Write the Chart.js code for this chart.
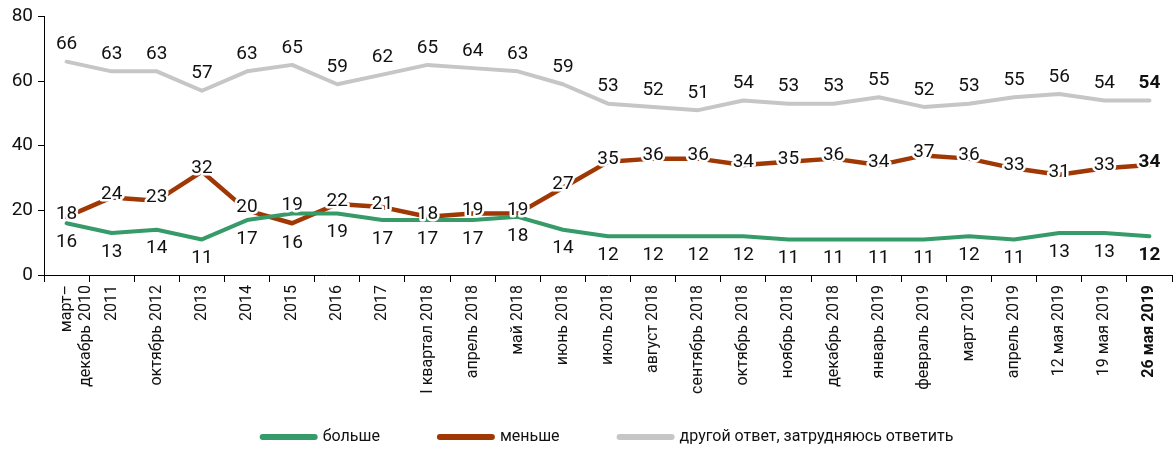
<!DOCTYPE html>
<html>
<head>
<meta charset="utf-8">
<title>больше / меньше</title>
<script src="https://cdn.jsdelivr.net/npm/chart.js@4.4.0/dist/chart.umd.min.js"></script>
<style>
  html, body { margin: 0; padding: 0; background: #fff; }
  #wrap { width: 1174px; height: 451px; }
</style>
</head>
<body>
<div id="wrap"><canvas id="myChart"></canvas></div>
<script>
var labels = [['март–', 'декабрь 2010'], '2011', 'октябрь 2012', '2013', '2014', '2015', '2016', '2017',
  'I квартал 2018', 'апрель 2018', 'май 2018', 'июнь 2018', 'июль 2018', 'август 2018', 'сентябрь 2018',
  'октябрь 2018', 'ноябрь 2018', 'декабрь 2018', 'январь 2019', 'февраль 2019', 'март 2019', 'апрель 2019',
  '12 мая 2019', '19 мая 2019', '26 мая 2019'];
var bolshe = [16, 13, 14, 11, 17, 19, 19, 17, 17, 17, 18, 14, 12, 12, 12, 12, 11, 11, 11, 11, 12, 11, 13, 13, 12];
var menshe = [18, 24, 23, 32, 20, 16, 22, 21, 18, 19, 19, 27, 35, 36, 36, 34, 35, 36, 34, 37, 36, 33, 31, 33, 34];
var drugoy = [66, 63, 63, 57, 63, 65, 59, 62, 65, 64, 63, 59, 53, 52, 51, 54, 53, 53, 55, 52, 53, 55, 56, 54, 54];
var yTicks = [0, 20, 40, 60, 80];

var FONT = 'Roboto';

function put(ctx, v, x, y, halo) {
  var s = String(v);
  if (halo) {
    ctx.lineWidth = 5;
    ctx.strokeStyle = '#fff';
    ctx.lineJoin = 'round';
    ctx.strokeText(s, x, y);
  }
  ctx.fillStyle = '#111';
  ctx.fillText(s, x, y);
}

// value labels: grey above, orange on the line, green below
var valueLabels = {
  id: 'valueLabels',
  afterDatasetsDraw: function(chart) {
    var ctx = chart.ctx;
    var g = chart.getDatasetMeta(0).data;
    var m = chart.getDatasetMeta(1).data;
    var d = chart.getDatasetMeta(2).data;
    ctx.save();
    ctx.textAlign = 'center';
    ctx.textBaseline = 'middle';
    for (var i = 0; i < labels.length; i++) {
      var last = i === labels.length - 1;
      ctx.font = (last ? 'bold ' : '') + '19px ' + FONT;
      var swap = bolshe[i] > menshe[i];
      put(ctx, drugoy[i], d[i].x, d[i].y - 17, false);
      put(ctx, menshe[i], m[i].x, swap ? m[i].y + 20 : m[i].y - 3, true);
      put(ctx, bolshe[i], g[i].x, swap ? g[i].y - 8 : g[i].y + 19, swap);
    }
    ctx.restore();
  }
};

// the legend sits in the empty space under the rotated labels
var legendUp = {
  id: 'legendUp',
  afterLayout: function(chart) {
    chart.legend.top -= 36;
  }
};

var ctx = document.getElementById('myChart').getContext('2d');
var myChart = new Chart(ctx, {
  type: 'line',
  data: {
    labels: labels,
    datasets: [
      { label: 'больше', data: bolshe, borderColor: '#379b69', backgroundColor: '#379b69',
        borderWidth: 4, pointRadius: 0, tension: 0, borderCapStyle: 'round', borderJoinStyle: 'round' },
      { label: 'меньше', data: menshe, borderColor: '#a03806', backgroundColor: '#a03806',
        borderWidth: 4.5, pointRadius: 0, tension: 0, borderCapStyle: 'round', borderJoinStyle: 'round' },
      { label: 'другой ответ, затрудняюсь ответить', data: drugoy, borderColor: '#c6c6c6', backgroundColor: '#c6c6c6',
        borderWidth: 4, pointRadius: 0, tension: 0, borderCapStyle: 'round', borderJoinStyle: 'round' }
    ]
  },
  options: {
    responsive: true,
    maintainAspectRatio: false,
    animation: false,
    layout: { padding: { top: 16, right: 2, bottom: 0, left: 0 } },
    plugins: {
      tooltip: { enabled: false },
      legend: {
        position: 'bottom',
        fullSize: false,
        maxHeight: 46,
        labels: {
          usePointStyle: true,
          pointStyleWidth: 52,
          padding: 60,
          color: '#111',
          font: { family: FONT, size: 16 },
          generateLabels: function(chart) {
            var items = Chart.defaults.plugins.legend.labels.generateLabels(chart);
            items.forEach(function(it) {
              it.pointStyle = 'line';
              it.lineWidth = 6;
              it.lineCap = 'round';
            });
            return items;
          }
        }
      }
    },
    scales: {
      x: {
        offset: true,
        grid: { offset: true, drawOnChartArea: false, drawTicks: true, tickLength: 7, color: '#000' },
        border: { color: '#000' },
        ticks: {
          autoSkip: false, maxRotation: 90, minRotation: 90, padding: 3, color: '#111',
          font: function(c) {
            return { family: FONT, size: 16, weight: c.index === labels.length - 1 ? 'bold' : 'normal' };
          }
        },
        afterFit: function(s) { s.height = 130; }
      },
      y: {
        min: 0, max: 80,
        afterBuildTicks: function(s) { s.ticks = yTicks.map(function(v) { return { value: v }; }); },
        ticks: { padding: 5, color: '#111', font: { family: FONT, size: 19 } },
        grid: { drawOnChartArea: false, drawTicks: true, tickLength: 6, color: '#000' },
        border: { color: '#000' },
        afterFit: function(s) { s.width = 44; }
      }
    }
  },
  plugins: [valueLabels, legendUp]
});
</script>
</body>
</html>
